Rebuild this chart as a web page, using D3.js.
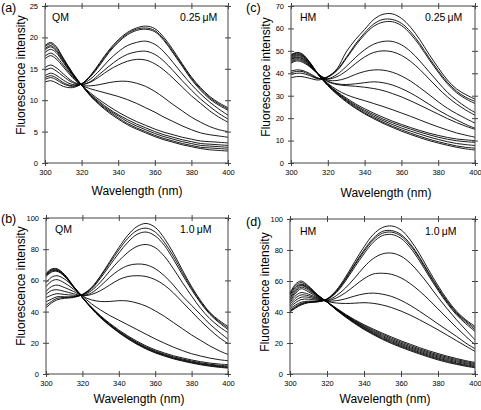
<!DOCTYPE html>
<html><head><meta charset="utf-8">
<script src="https://cdn.jsdelivr.net/npm/d3@7"></script>
<style>
body{margin:0;background:#fff}
svg{display:block}
text{font-family:"Liberation Sans",Arial,Helvetica,sans-serif;fill:#000}
</style>
</head><body>
<script>
// ---- data ----
const wavelengths=[300,303,306,310,315,320,325,330,335,340,345,350,355,360,365,370,375,380,385,390,395,400];
const xTicks=[300,320,340,360,380,400];
const yTicksA=[0,5,10,15,20,25];
const yTicksB=[0,20,40,60,80,100];
const yTicksC=[0,10,20,30,40,50,60,70];
const yTicksD=[0,20,40,60,80,100];
const panelLabels=["(a)","(b)","(c)","(d)"];
const compounds=["QM","QM","HM","HM"];
const concentrations=["0.25\u2009\u03bcM","1.0\u2009\u03bcM","0.25\u2009\u03bcM","1.0\u2009\u03bcM"];
const xTitle="Wavelength (nm)";
const yTitle="Fluorescence intensity";

const spectraA=[
[12.9,13.1,12.8,12.2,12.0,12.6,14.0,16.0,18.0,19.6,20.8,21.5,21.8,21.4,20.0,18.0,15.8,13.7,12.0,10.6,9.6,8.8],
[13.3,13.6,13.3,12.6,12.2,12.6,13.9,15.8,17.8,19.4,20.6,21.3,21.5,21.1,19.7,17.7,15.6,13.5,11.8,10.4,9.4,8.6],
[13.6,13.9,13.6,12.8,12.3,12.6,13.8,15.6,17.6,19.2,20.4,21.1,21.3,20.9,19.5,17.5,15.4,13.3,11.6,10.2,9.2,8.4],
[13.9,14.3,14.0,13.2,12.5,12.6,13.4,14.8,16.4,17.7,18.7,19.2,19.4,18.9,17.7,16.0,14.2,12.5,11.0,9.7,8.6,7.6],
[14.7,15.1,14.7,13.8,12.8,12.5,13.0,14.2,15.4,16.5,17.3,17.7,17.8,17.3,16.2,14.7,13.1,11.6,10.2,9.0,7.9,7.0],
[15.2,15.6,15.2,14.2,13.0,12.5,12.9,13.8,14.8,15.6,16.2,16.5,16.4,15.8,14.8,13.5,12.1,10.7,9.5,8.3,7.3,6.5],
[16.6,17.1,16.6,15.3,13.6,12.4,12.3,12.5,12.8,13.0,13.0,12.7,12.2,11.4,10.4,9.3,8.3,7.3,6.5,5.8,5.3,5.0],
[17.0,17.5,17.0,15.6,13.8,12.4,11.8,11.4,11.0,10.6,10.1,9.5,8.8,8.1,7.3,6.6,5.9,5.3,4.8,4.5,4.3,4.1],
[17.6,18.1,17.6,16.0,14.0,12.4,11.1,10.0,9.0,8.1,7.3,6.6,6.0,5.4,4.9,4.5,4.1,3.8,3.5,3.4,3.3,3.2],
[18.0,18.5,17.9,16.2,14.1,12.4,10.9,9.7,8.6,7.7,6.9,6.2,5.6,5.0,4.5,4.1,3.7,3.4,3.1,3.0,2.9,2.8],
[18.2,18.7,18.1,16.4,14.2,12.4,10.8,9.5,8.4,7.5,6.6,5.9,5.3,4.7,4.2,3.8,3.4,3.1,2.8,2.7,2.6,2.5],
[18.5,19.0,18.4,16.6,14.3,12.4,10.7,9.3,8.2,7.2,6.3,5.6,5.0,4.4,3.9,3.5,3.1,2.8,2.5,2.4,2.3,2.2],
[18.7,19.2,18.6,16.7,14.4,12.4,10.6,9.2,8.0,7.0,6.1,5.4,4.8,4.2,3.7,3.3,2.9,2.6,2.3,2.1,2.0,1.9]
];
const spectraB=[
[42.5,45.5,47.5,48.5,49,51,55.5,63,72,81,89,94.5,96.5,94,87,77.5,66.5,56,47,39.5,34.5,30.5],
[44,46.5,48.5,49,49.5,51,55,62.5,71,79.5,87,92,93.5,91,84.5,75.5,65,55,46.2,39,33.7,29.5],
[46.3,48,49.5,49.5,49.5,50.8,54.5,61.5,69.5,77.5,84.5,89.5,91,88.5,82.5,73.5,63.5,54,45.5,38.3,33,28.5],
[49,50.5,51.5,51,50.5,50.5,53.5,59,66,72.5,78,81.8,83,81,75.5,67.5,58.5,50,42,35.5,30.5,26.5],
[51,53.5,54,53,51.5,50.3,52,56.5,62,66.5,69.5,70.5,70,67.5,63,57,50,44,38,32,27,22.3],
[53,56,57,55.5,53,50.3,51,53.5,57,60.5,62.5,63,62.5,60.5,57,52,46,40,34,28.5,23.5,19.5],
[56,59.5,60.5,58.5,54.5,50,47.5,46.5,46.5,47,46.8,45.5,43.5,40.5,37,33,29,25,21.5,18,15,12.5],
[58.6,62,63,61,56,50,45,41,37.5,34.5,31.5,28.5,25.5,22.5,19.8,17.2,15,13,11.5,10.2,9.2,8.5],
[62.5,65.3,65.8,62.8,55.8,49,42.9,37.3,32.5,28.2,24.4,21,18,15.5,13.5,11.7,10.3,9.0,7.9,7.0,6.4,6.0],
[63,65.8,66.2,63.1,56,49,42.6,36.9,32,27.6,23.8,20.3,17.3,14.8,12.8,11,9.6,8.3,7.2,6.3,5.6,5.2],
[63.5,66.3,66.6,63.4,56.1,49,42.4,36.6,31.6,27.2,23.3,19.8,16.8,14.3,12.3,10.5,9.1,7.8,6.7,5.8,5.1,4.6],
[64,66.8,67,63.7,56.3,49,42.2,36.3,31.3,26.8,22.9,19.4,16.4,13.9,11.9,10.1,8.7,7.4,6.3,5.4,4.7,4.2],
[64.5,67.3,67.5,64,56.5,49,42,36,31,26.5,22.5,19,16,13.5,11.5,9.7,8.3,7.0,5.9,5.0,4.3,3.8]
];
const spectraC=[
[38,38.5,38.5,37.8,37,38.5,42,49.5,55,59.5,64,66.3,66.5,64.5,60.5,55,48.5,42.5,37,33,30.5,28.5],
[39.5,40,40,39,37.5,38.5,41.5,47,53,58,62,64,64,62.3,58.5,53.2,47,41.2,36,32,29.3,27.5],
[40.3,40.8,40.8,39.5,37.7,38.3,41.2,46.5,52.3,57.2,61,62.8,63,61.3,57.5,52.3,46.2,40.5,35.3,31.3,28.6,26.5],
[41,41.5,41.3,40,37.8,37.5,39.5,43,47,50.5,53,54.2,54.2,52.7,49.7,45.5,40.7,36,31.5,28,25,22.5],
[44.5,45.5,45,43,39.5,37.5,38.5,41,44.3,47.3,49.3,50,49.6,48,45.3,41.7,37.5,33.3,29.5,26.3,23.6,21.3],
[45,46,45.5,43.3,39.6,37,36.8,37.8,39.5,40.8,41.5,41.4,40.5,38.8,36.5,33.6,30.5,27.3,24.4,22,19.8,17.8],
[45.5,46.5,46,43.5,39.5,36.5,35.3,35,35.3,35.8,36.2,35.8,34.8,33.2,31.2,28.8,26.2,23.6,21.3,19.2,17.2,15.5],
[46,47,46.5,43.8,39.5,36.3,35,34.5,34.2,33.8,33.2,32.3,31,29.5,27.7,25.8,23.8,21.8,19.8,18,16.4,15],
[46.3,47.3,46.8,44,39.3,35.5,32.6,30.5,29,27.8,26.5,25.2,23.8,22.3,20.8,19.2,17.6,16.1,14.7,13.4,12.4,11.5],
[46.7,47.8,47.3,44.3,39.3,35.2,31.8,29,26.4,24.2,22.2,20.4,18.7,17.2,15.8,14.5,13.3,12.3,11.4,10.7,10.3,10],
[47.2,48.2,47.7,44.6,39.3,35,31.5,28.5,25.8,23.5,21.5,19.6,18,16.5,15.1,13.8,12.6,11.5,10.6,9.9,9.5,9.2],
[47.6,48.6,48,44.8,39.3,34.8,31.2,28.1,25.3,22.9,20.8,18.9,17.2,15.6,14.2,12.9,11.6,10.5,9.5,8.7,8.2,7.8],
[48,49,48.4,45,39.3,34.6,30.9,27.7,24.8,22.3,20.2,18.2,16.4,14.8,13.3,11.9,10.6,9.5,8.5,7.6,7.0,6.6],
[48.3,49.3,48.7,45.2,39.3,34.5,30.6,27.3,24.4,21.9,19.7,17.7,15.9,14.2,12.7,11.3,10.0,8.9,7.9,7.0,6.3,5.8]
];
const spectraD=[
[40,42.5,44.5,46,46.5,48.5,54,62.5,72.5,82,90,94.5,95.5,93,86.5,77.5,67,57,48,40.5,35,30.8],
[40.5,43,45,46.3,46.7,48.3,53.5,61.5,71,80,87.5,92,92.5,90,84,75.3,65.3,55.7,47,39.7,34.3,29.7],
[41,43.5,45.5,46.5,46.8,48.2,53,61,70.3,79,86.5,90.8,91.5,89,83,74.5,64.5,55,46.3,39,33.5,28.6],
[42,44.5,46.3,47,47,48,52.5,60,69,77.5,85,89.3,90,87.5,81.5,73,63.3,54,45.5,38.2,32.5,27.5],
[43,46,48,48.3,47.5,47.5,50.5,55.5,62,69,74.5,77.5,78,76,71.5,65,57.5,49.5,42,35,28.5,22],
[44,47.5,49.5,49.5,48,47.3,49,52.5,57,61.5,64.5,65,64.3,62,58.3,53.5,48,42,36,30,24.3,19],
[45,49,51,50.5,48.5,47,47.3,48.5,50.3,51.7,52.2,51.5,50,47.5,44.3,40.5,36.5,32.3,28.3,24.3,20,16.3],
[46,50.5,52.5,51.5,49,46.8,45.8,45.5,45.7,46,45.6,44.5,42.8,40.6,38,35,31.8,28.5,25,21.5,18,14.6],
[47,52,55,53,49.5,46.5,42.5,38.5,35,31.8,29,26.3,23.8,21.4,19.2,17,15,13.2,11.5,10,8.6,7.5],
[48,53,56,54,50,46.5,42.3,38.2,34.5,31.2,28.3,25.6,23,20.6,18.4,16.2,14.2,12.4,10.8,9.3,8,6.8],
[49,54,57,54.8,50.3,46.5,42.1,37.9,34.1,30.6,27.6,24.8,22.2,19.8,17.6,15.5,13.5,11.7,10.1,8.6,7.3,6.2],
[50,55,57.5,55.3,50.5,46.5,41.9,37.6,33.7,30.1,27,24.1,21.5,19.1,16.9,14.8,12.8,11,9.4,7.9,6.7,5.6],
[51,56,58,55.8,50.7,46.5,41.7,37.3,33.3,29.6,26.4,23.4,20.8,18.4,16.2,14.1,12.1,10.3,8.7,7.2,6.0,5.0],
[51.5,57,59,56.3,50.9,46.5,41.5,37,32.9,29.2,25.9,22.8,20.2,17.8,15.6,13.5,11.5,9.7,8.1,6.7,5.5,4.5],
[52.3,58,60,56.8,51,46.5,41.3,36.7,32.5,28.7,25.4,22.3,19.6,17.2,15,12.9,10.9,9.1,7.5,6.2,5.0,4.0]
];

// ---- layout ----
const W=481,H=410;
const layout=[
 {box:[45,228,6,163], yMax:25, yTicks:yTicksA, data:spectraA, lab:[1,12], cmp:[52,21], conc:[180,21], yt:[21,75], xt:[137,195]},
 {box:[46,228,218,374], yMax:100, yTicks:yTicksB, data:spectraB, lab:[1,223], cmp:[55,233], conc:[180,233], yt:[21,286], xt:[139,403]},
 {box:[291,475,6,163], yMax:70, yTicks:yTicksC, data:spectraC, lab:[246,12], cmp:[300,21], conc:[425,21], yt:[266,77], xt:[386,197]},
 {box:[290,475,219,374], yMax:100, yTicks:yTicksD, data:spectraD, lab:[246,226], cmp:[300,235], conc:[425,235], yt:[265,292], xt:[385,403]}
];

const svg=d3.select("body").append("svg").attr("width",W).attr("height",H);

layout.forEach((p,i)=>{
  const [x0,x1,y0,y1]=p.box;
  const x=d3.scaleLinear().domain([300,400]).range([x0,x1]);
  const y=d3.scaleLinear().domain([0,p.yMax]).range([y1,y0]);
  const g=svg.append("g");
  const frame="#444";
  const line=d3.line().x((d,j)=>x(wavelengths[j])).y(d=>y(d)).curve(d3.curveCatmullRom.alpha(0.5));
  g.append("g").selectAll("path").data(p.data).join("path")
    .attr("d",line).attr("fill","none").attr("stroke","#000").attr("stroke-width",0.9);
  g.append("rect").attr("x",x0).attr("y",y0).attr("width",x1-x0).attr("height",y1-y0)
    .attr("fill","none").attr("stroke",frame).attr("stroke-width",1);
  const styleAxis=sel=>{sel.select(".domain").remove();sel.selectAll("line").attr("stroke",frame);
    sel.selectAll("text").attr("font-size",7.5).attr("fill","#222").style("font-family","'Liberation Sans',Arial,sans-serif");};
  const bx=g.append("g").attr("transform",`translate(0,${y1})`)
    .call(d3.axisBottom(x).tickValues(xTicks).tickSize(3).tickPadding(4).tickFormat(d3.format("d")));
  styleAxis(bx); bx.selectAll(".tick line").attr("y1",-3);
  const tx=g.append("g").attr("transform",`translate(0,${y0})`)
    .call(d3.axisTop(x).tickValues(xTicks).tickSize(3).tickFormat(""));
  styleAxis(tx); tx.selectAll(".tick line").attr("y1",3);
  const ly=g.append("g").attr("transform",`translate(${x0},0)`)
    .call(d3.axisLeft(y).tickValues(p.yTicks).tickSize(3).tickPadding(4).tickFormat(d3.format("d")));
  styleAxis(ly); ly.selectAll(".tick line").attr("x1",3);
  const ry=g.append("g").attr("transform",`translate(${x1},0)`)
    .call(d3.axisRight(y).tickValues(p.yTicks).tickSize(3).tickFormat(""));
  styleAxis(ry); ry.selectAll(".tick line").attr("x1",-3);
  g.append("text").attr("x",p.lab[0]).attr("y",p.lab[1]).attr("font-size",12.5).text(panelLabels[i]);
  g.append("text").attr("x",p.cmp[0]).attr("y",p.cmp[1]).attr("font-size",10.5).text(compounds[i]);
  g.append("text").attr("x",p.conc[0]).attr("y",p.conc[1]).attr("font-size",10.5).text(concentrations[i]);
  g.append("text").attr("x",p.xt[0]).attr("y",p.xt[1]).attr("font-size",12).attr("text-anchor","middle").text(xTitle);
  g.append("text").attr("transform",`translate(${p.yt[0]+4},${p.yt[1]}) rotate(-90)`)
    .attr("font-size",12).attr("text-anchor","middle").text(yTitle);
});
</script>
</body></html>
